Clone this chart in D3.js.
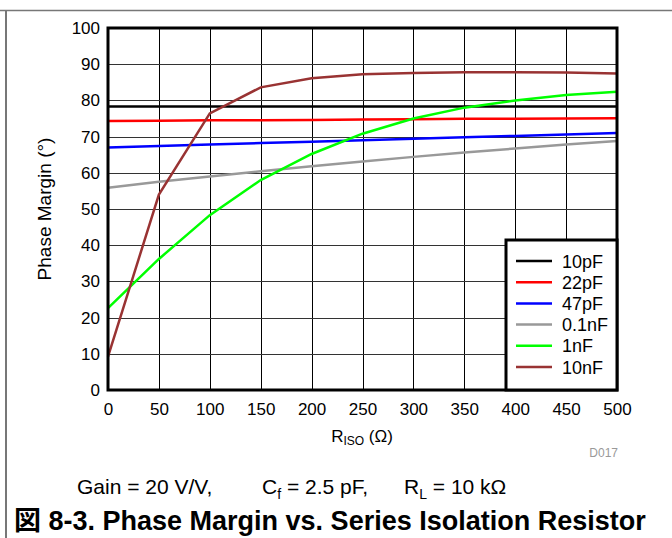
<!DOCTYPE html>
<meta charset="utf-8">
<style>
body { margin: 0; background: #fff; }
text { font-family: "Liberation Sans", Arial, "Noto Sans CJK JP", sans-serif; fill: #000; }
.tick text { font-size: 17px; }
</style>
<body>
<script src="https://d3js.org/d3.v7.min.js"></script>
<script>

// data
var rIso = [0, 50, 100, 150, 200, 250, 300, 350, 400, 450, 500];
var seriesNames = ["10pF", "22pF", "47pF", "0.1nF", "1nF", "10nF"];
var seriesColors = ["#000000", "#ff0000", "#0000ff", "#999999", "#00ff00", "#993333"];
var pm10pF  = [78.3, 78.3, 78.3, 78.3, 78.3, 78.3, 78.3, 78.3, 78.3, 78.3, 78.3];
var pm22pF  = [74.3, 74.4, 74.5, 74.5, 74.6, 74.7, 74.8, 74.9, 74.9, 75.0, 75.1];
var pm47pF  = [67.0, 67.4, 67.8, 68.2, 68.6, 69.0, 69.4, 69.8, 70.2, 70.6, 71.0];
var pm01nF  = [55.9, 57.5, 59.0, 60.4, 61.8, 63.1, 64.4, 65.6, 66.7, 67.8, 68.8];
var pm1nF   = [22.6, 36.2, 48.3, 58.0, 65.2, 70.8, 75.0, 78.0, 80.0, 81.5, 82.4];
var pm10nF  = [9.2, 54.0, 76.4, 83.6, 86.1, 87.2, 87.6, 87.8, 87.8, 87.7, 87.4];
var allSeries = [pm10pF, pm22pF, pm47pF, pm01nF, pm1nF, pm10nF];
var xTicks = [0, 50, 100, 150, 200, 250, 300, 350, 400, 450, 500];
var yTicks = [0, 10, 20, 30, 40, 50, 60, 70, 80, 90, 100];

var W = 672, H = 538;
var margin = {top: 28, right: 55, bottom: 148, left: 108},
    width = W - margin.left - margin.right,
    height = H - margin.top - margin.bottom;

var svg = d3.select("body").append("svg")
    .attr("width", W)
    .attr("height", H);

// page frame lines
svg.append("line").attr("x1", 0).attr("x2", W).attr("y1", 10.5).attr("y2", 10.5)
    .attr("stroke", "#777").attr("stroke-width", 1.5);
svg.append("line").attr("x1", 6).attr("x2", 6).attr("y1", 10).attr("y2", H)
    .attr("stroke", "#777").attr("stroke-width", 2);

var g = svg.append("g")
    .attr("transform", "translate(" + margin.left + "," + margin.top + ")");

var x = d3.scaleLinear().domain([0, 500]).range([0, width]);
var y = d3.scaleLinear().domain([0, 100]).range([height, 0]);

// grid
g.append("g")
  .selectAll("line").data(xTicks.slice(1, -1)).enter().append("line")
    .attr("x1", function(d) { return Math.round(x(d)) + 0.5; })
    .attr("x2", function(d) { return Math.round(x(d)) + 0.5; })
    .attr("y1", 0).attr("y2", height)
    .attr("stroke", "#000").attr("stroke-width", 1);
g.append("g")
  .selectAll("line").data(yTicks.slice(1, -1)).enter().append("line")
    .attr("y1", function(d) { return Math.round(y(d)) + 0.5; })
    .attr("y2", function(d) { return Math.round(y(d)) + 0.5; })
    .attr("x1", 0).attr("x2", width)
    .attr("stroke", "#333").attr("stroke-width", 1);

// axes (labels only)
var xAxis = g.append("g")
    .attr("transform", "translate(0," + height + ")")
    .call(d3.axisBottom(x).tickValues(xTicks).tickSize(0).tickPadding(13));
xAxis.select(".domain").remove();

var yAxis = g.append("g")
    .call(d3.axisLeft(y).tickValues(yTicks).tickSize(0).tickPadding(8));
yAxis.select(".domain").remove();

// lines
var line = d3.line()
    .x(function(d, i) { return x(rIso[i]); })
    .y(function(d) { return y(d); });

g.selectAll(".series").data(allSeries).enter().append("path")
    .attr("class", "series")
    .attr("d", line)
    .attr("fill", "none")
    .attr("stroke", function(d, i) { return seriesColors[i]; })
    .attr("stroke-width", 2.5);

// plot border
g.append("rect")
    .attr("x", 0).attr("y", 0)
    .attr("width", width).attr("height", height)
    .attr("fill", "none").attr("stroke", "#000").attr("stroke-width", 3);

// legend
var legend = g.append("g")
    .attr("transform", "translate(" + (width - 111) + "," + (height - 150) + ")");
legend.append("rect")
    .attr("width", 111).attr("height", 150)
    .attr("fill", "#fff").attr("stroke", "#000").attr("stroke-width", 3);
legend.selectAll(".item").data(seriesNames).enter().append("g")
  .each(function(d, i) {
    var it = d3.select(this);
    var cy = 21 + i * 21.2;
    it.append("line")
      .attr("x1", 10).attr("x2", 46)
      .attr("y1", cy).attr("y2", cy)
      .attr("stroke", seriesColors[i]).attr("stroke-width", 2.5);
    it.append("text")
      .attr("x", 56).attr("y", cy + 6.5)
      .style("font-size", "18px")
      .text(d);
  });

// axis titles
svg.append("text")
    .attr("transform", "translate(51," + (margin.top + height / 2) + ") rotate(-90)")
    .attr("text-anchor", "middle")
    .style("font-size", "19px")
    .text("Phase Margin (°)");

var xt = svg.append("text")
    .attr("x", 362).attr("y", 442)
    .attr("text-anchor", "middle")
    .style("font-size", "17px");
xt.append("tspan").text("R");
xt.append("tspan").attr("dy", 3).style("font-size", "12px").text("ISO");
xt.append("tspan").attr("dy", -3).text(" (Ω)");

svg.append("text")
    .attr("x", 618).attr("y", 457)
    .attr("text-anchor", "end")
    .style("font-size", "12px")
    .style("fill", "#999")
    .text("D017");

// conditions line
var cond = svg.append("text")
    .attr("x", 77).attr("y", 494)
    .style("font-size", "21px");
cond.append("tspan").text("Gain = 20 V/V,");
cond.append("tspan").attr("x", 262).text("C");
cond.append("tspan").attr("dy", 5).style("font-size", "14px").text("f");
cond.append("tspan").attr("dy", -5).text(" = 2.5 pF,");
cond.append("tspan").attr("x", 404).text("R");
cond.append("tspan").attr("dy", 5).style("font-size", "14px").text("L");
cond.append("tspan").attr("dy", -5).text(" = 10 kΩ");

svg.append("text")
    .attr("x", 14).attr("y", 530)
    .style("font-size", "27px")
    .style("font-weight", "bold")
    .text("図 8-3. Phase Margin vs. Series Isolation Resistor");

</script>
</body>
